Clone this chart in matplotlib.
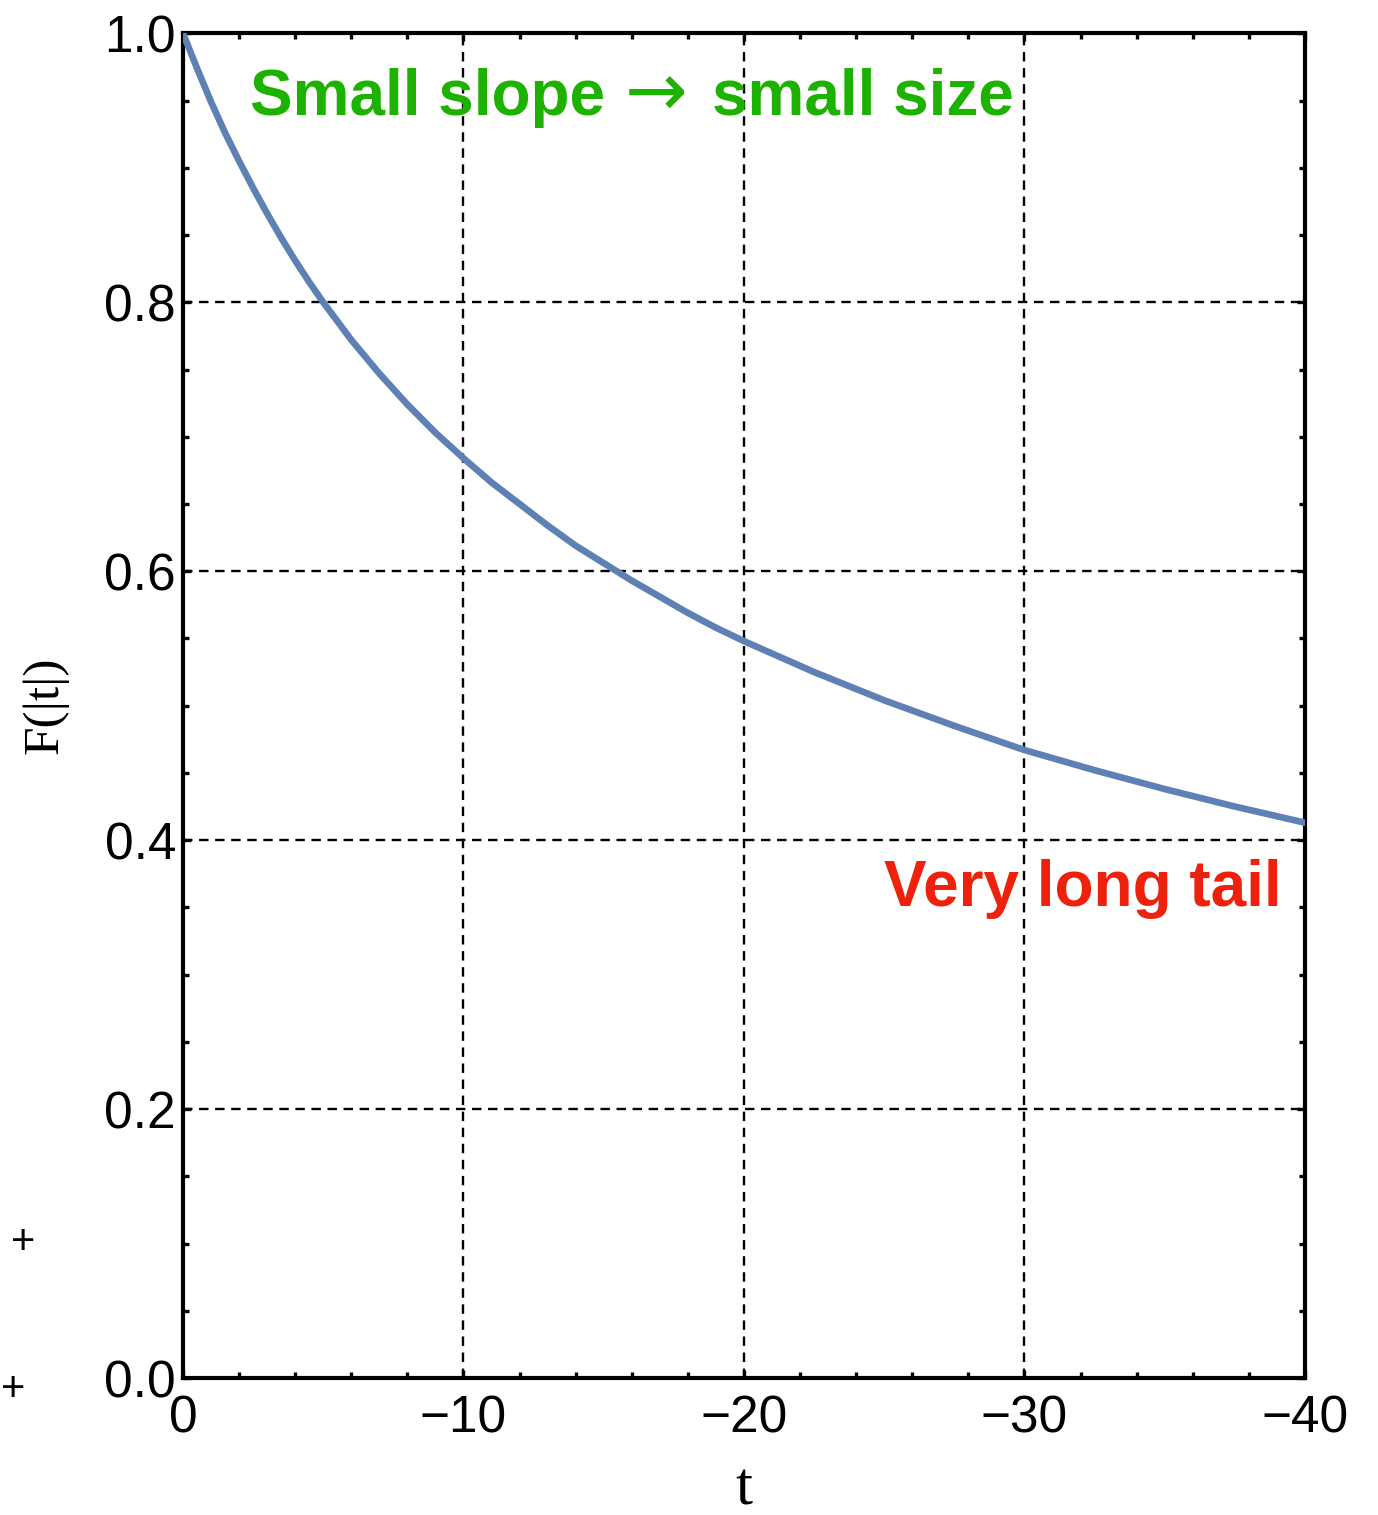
import numpy as np
import matplotlib
matplotlib.use("Agg")
import matplotlib.pyplot as plt
from matplotlib.ticker import MultipleLocator

# values: |t| and F(|t|)
T_ABS = [0, 0.5, 1, 1.5, 2, 2.5, 3, 3.5, 4, 4.5, 5, 6, 7, 8, 9, 10, 11, 12, 13,
         14, 15, 16, 17, 18, 19, 20, 22.5, 25, 27.5, 30, 32.5, 35, 37.5, 40]
F_VAL = [1.000, 0.974, 0.949, 0.926, 0.905, 0.885, 0.866, 0.848, 0.831, 0.815,
         0.800, 0.772, 0.747, 0.724, 0.703, 0.684, 0.666, 0.650, 0.634,
         0.619, 0.606, 0.593, 0.581, 0.569, 0.558, 0.548, 0.525, 0.504,
         0.485, 0.467, 0.452, 0.438, 0.425, 0.413]
X_TICKS = [0, -10, -20, -30, -40]
Y_TICKS = [0.0, 0.2, 0.4, 0.6, 0.8, 1.0]

LINE = "#5E81B5"; GREEN = "#1DB100"; RED = "#EE220C"
SANS = ["Liberation Sans", "DejaVu Sans"]; SERIF = ["Liberation Serif", "DejaVu Serif"]

plt.rcParams.update({"font.family": SANS, "axes.linewidth": 3.0,
                     "axes.unicode_minus": True})

fig = plt.figure(figsize=(13.78, 15.15), dpi=100)
ax = fig.add_axes([0.1328, 0.0904, 0.947 - 0.1328, 0.978 - 0.0904])

t = -np.array(T_ABS)
ax.plot(t, F_VAL, color=LINE, lw=4.8, solid_joinstyle="round", zorder=3)

ax.set_xlim(0, -40); ax.set_ylim(0, 1)
ax.set_xticks(X_TICKS); ax.set_yticks(Y_TICKS)
ax.set_xticklabels([f"{v:d}".replace("-", "\u2212") for v in X_TICKS])
ax.set_yticklabels([f"{v:.1f}" for v in Y_TICKS])
ax.xaxis.set_minor_locator(MultipleLocator(2))
ax.yaxis.set_minor_locator(MultipleLocator(0.05))
ax.tick_params(which="both", direction="in", top=True, right=True, width=2.4,
               labelsize=37, colors="black")
ax.tick_params(which="major", length=5.5)
ax.tick_params(which="minor", length=4)
ax.tick_params(axis="x", pad=12)
ax.tick_params(axis="y", pad=5)

ax.grid(True, which="major", color="black", ls=(0, (4, 2.8)), lw=1.7, zorder=1)

ax.set_xlabel("t", family=SERIF, fontsize=44, labelpad=13)
ax.set_ylabel("F(|t|)", family=SERIF, fontsize=37, labelpad=26)

ax.text(-2.39, 0.952, "Small slope", color=GREEN, fontsize=46,
        fontweight="bold", ha="left", va="center", family=SANS, zorder=4)
ax.text(-15.75, 0.953, "\u2192", color=GREEN, fontsize=54,
        ha="left", va="center", family=["DejaVu Sans"], zorder=4)
ax.text(-18.86, 0.952, "small size", color=GREEN, fontsize=46,
        fontweight="bold", ha="left", va="center", family=SANS, zorder=4)
ax.text(-25.0, 0.364, "Very long tail", color=RED, fontsize=46,
        fontweight="bold", ha="left", va="center", family=SANS, zorder=4)

# fragments on the left edge of the original
fig.text(0.0165, 1 - 1243 / 1515, "+", fontsize=30, ha="center", va="center")
fig.text(0.0095, 1 - 1390 / 1515, "+", fontsize=30, ha="center", va="center")

fig.savefig("out.png", dpi=100)
